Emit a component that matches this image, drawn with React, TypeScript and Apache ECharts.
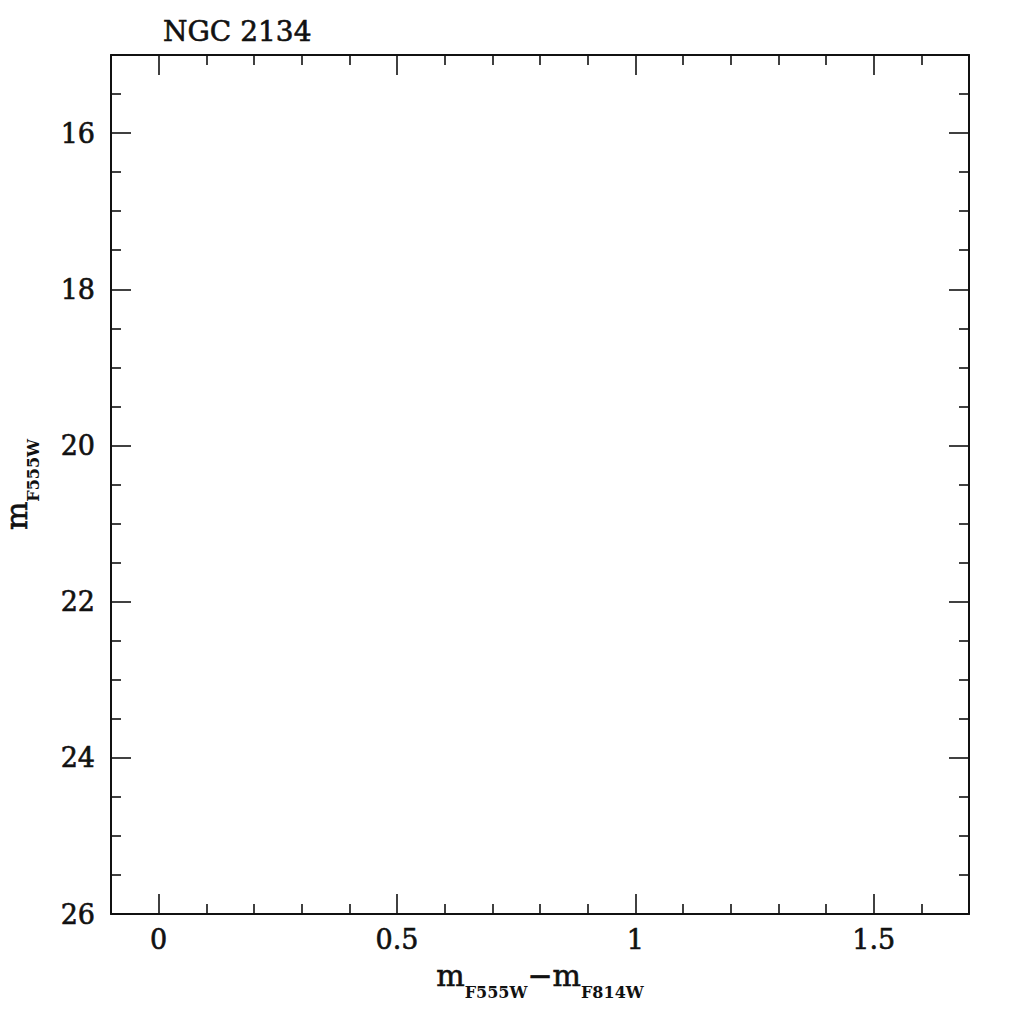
import React, { useEffect, useRef } from "react";
import * as echarts from "echarts";

const title = "NGC 2134";
const xRange = [-0.1, 1.7];
const yRange = [15, 26];
const xMajor = [0, 0.5, 1, 1.5];
const xMinor = [0.1, 0.2, 0.3, 0.4, 0.6, 0.7, 0.8, 0.9, 1.1, 1.2, 1.3, 1.4, 1.6];
const yMajor = [16, 18, 20, 22, 24, 26];
const yMinor = [15.5, 16.5, 17, 17.5, 18.5, 19, 19.5, 20.5, 21, 21.5, 22.5, 23, 23.5, 24.5, 25, 25.5];
const points: number[][] = [];

const FONT = "DejaVu Serif";
const INK = "#111";
const THICK = { textBorderColor: INK, textBorderWidth: 0.6 };

function axis(kind: "x" | "y", position: string, ticks: number[], len: number, line: boolean, labels: boolean, extra: any = {}) {
  const base: any = {
    type: "value",
    position,
    min: kind === "x" ? xRange[0] : yRange[0],
    max: kind === "x" ? xRange[1] : yRange[1],
    inverse: kind === "y",
    splitLine: { show: false },
    axisLine: { show: line, onZero: false, lineStyle: { color: INK, width: 2 } },
    axisTick: {
      show: true,
      inside: true,
      length: len,
      customValues: ticks,
      lineStyle: { color: INK, width: 1.6 },
    },
    axisLabel: {
      show: labels,
      customValues: ticks,
      fontFamily: FONT,
      fontSize: 27,
      color: INK,
      ...THICK,
      margin: kind === "x" ? 12 : 16,
      formatter: (v: number) => String(v),
    },
  };
  return Object.assign(base, extra);
}

const subRich = {
  m: { fontFamily: FONT, fontSize: 30, color: INK, lineHeight: 40, verticalAlign: "top", ...THICK },
  s: { fontFamily: FONT, fontSize: 16, fontWeight: "bold", color: INK, lineHeight: 22, verticalAlign: "bottom" },
};

export default function App() {
  const ref = useRef<HTMLDivElement>(null);
  useEffect(() => {
    if (!ref.current) return;
    const chart = echarts.init(ref.current, null, { renderer: "svg" });
    chart.setOption({
      animation: false,
      backgroundColor: "#fff",
      title: {
        text: title,
        left: 158,
        top: 12,
        textStyle: { fontFamily: FONT, fontSize: 28, fontWeight: "normal", color: INK, ...THICK },
      },
      grid: { left: 111, right: 55, top: 55, bottom: 110, containLabel: false, outerBoundsMode: "none" },
      xAxis: [
        axis("x", "bottom", xMajor, 20, true, true, {
          name: "{m|m}{s|F555W}{m|\u2212m}{s|F814W}",
          nameLocation: "middle",
          nameGap: 46,
          nameTextStyle: { rich: subRich },
        }),
        axis("x", "bottom", xMinor, 10, false, false),
        axis("x", "top", xMajor, 20, true, false),
        axis("x", "top", xMinor, 10, false, false),
      ],
      yAxis: [
        axis("y", "left", yMajor, 20, true, true, {
          name: "{m|m}{s|F555W}",
          nameLocation: "middle",
          nameGap: 70,
          nameRotate: 90,
          nameTextStyle: { rich: subRich },
        }),
        axis("y", "left", yMinor, 10, false, false),
        axis("y", "right", yMajor, 20, true, false),
        axis("y", "right", yMinor, 10, false, false),
      ],
      series: [
        {
          type: "scatter",
          xAxisIndex: 0,
          yAxisIndex: 0,
          data: points,
          symbolSize: 3,
          itemStyle: { color: INK },
        },
      ],
    });
    return () => chart.dispose();
  }, []);
  return (
    <div
      ref={ref}
      style={{ position: "fixed", left: 0, top: 0, width: 1024, height: 1024, background: "#fff" }}
    />
  );
}
